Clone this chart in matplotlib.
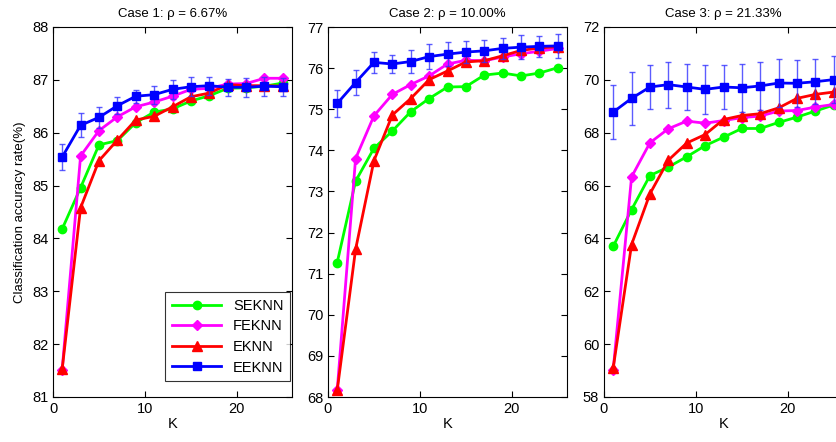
import matplotlib.pyplot as plt
import numpy as np

plt.rcParams['font.family'] = ['Liberation Sans', 'DejaVu Sans']

K = [1, 3, 5, 7, 9, 11, 13, 15, 17, 19, 21, 23, 25]
metodos = ['SEKNN', 'FEKNN', 'EKNN', 'EEKNN']
titulos = ['Case 1: ρ = 6.67%', 'Case 2: ρ = 10.00%', 'Case 3: ρ = 21.33%']

# caso 1
sek1 = [84.18, 84.96, 85.77, 85.85, 86.19, 86.39, 86.45, 86.60, 86.70, 86.84, 86.85, 86.88, 86.94]
fek1 = [81.52, 85.56, 86.04, 86.30, 86.49, 86.58, 86.69, 86.82, 86.84, 86.92, 86.93, 87.03, 87.03]
ekn1 = [81.53, 84.58, 85.47, 85.86, 86.24, 86.31, 86.49, 86.68, 86.75, 86.91, 86.89, 86.89, 86.88]
eek1 = [85.54, 86.14, 86.29, 86.51, 86.69, 86.72, 86.82, 86.87, 86.89, 86.86, 86.86, 86.88, 86.87]
err1 = [0.24, 0.23, 0.20, 0.16, 0.12, 0.17, 0.18, 0.18, 0.17, 0.16, 0.18, 0.18, 0.17]

# caso 2
sek2 = [71.27, 73.25, 74.05, 74.47, 74.94, 75.26, 75.54, 75.55, 75.83, 75.88, 75.81, 75.88, 76.01]
fek2 = [68.16, 73.80, 74.84, 75.36, 75.60, 75.81, 76.10, 76.19, 76.18, 76.27, 76.35, 76.41, 76.48]
ekn2 = [68.16, 71.59, 73.75, 74.86, 75.26, 75.72, 75.93, 76.15, 76.18, 76.30, 76.43, 76.49, 76.52]
eek2 = [75.14, 75.65, 76.14, 76.10, 76.16, 76.28, 76.34, 76.39, 76.42, 76.48, 76.51, 76.53, 76.54]
err2 = [0.33, 0.31, 0.25, 0.21, 0.29, 0.31, 0.30, 0.27, 0.27, 0.26, 0.29, 0.25, 0.29]

# caso 3
sek3 = [63.70, 65.09, 66.38, 66.70, 67.09, 67.51, 67.83, 68.16, 68.16, 68.39, 68.59, 68.82, 69.05]
fek3 = [59.03, 66.33, 67.62, 68.15, 68.44, 68.36, 68.46, 68.57, 68.63, 68.82, 68.84, 68.97, 69.07]
ekn3 = [59.10, 63.77, 65.69, 66.96, 67.61, 67.93, 68.50, 68.65, 68.72, 68.94, 69.30, 69.45, 69.54]
eek3 = [68.78, 69.30, 69.73, 69.82, 69.73, 69.64, 69.73, 69.70, 69.77, 69.88, 69.87, 69.93, 70.01]
err3 = [1.03, 0.99, 0.85, 0.87, 0.88, 0.94, 0.85, 0.90, 0.90, 0.90, 0.90, 0.86, 0.88]

casos = [(sek1, fek1, ekn1, eek1, err1),
         (sek2, fek2, ekn2, eek2, err2),
         (sek3, fek3, ekn3, eek3, err3)]
ylims = [(81, 88), (68, 77), (58, 72)]
yticks = [np.arange(81, 89, 1), np.arange(68, 78, 1), np.arange(58, 73, 2)]
lefts = [53, 328, 604]

fig = plt.figure(figsize=(8.36, 4.42), dpi=100)
W, H = 836, 442

for i, (sek, fek, ekn, eek, err) in enumerate(casos):
    ax = fig.add_axes([lefts[i] / W, 45 / H, 239 / W, 370 / H])
    ax.plot(K, sek, '-o', color='#00ff00', lw=2, ms=6, label='SEKNN')
    ax.plot(K, fek, '-D', color='#ff00ff', lw=2, ms=5, label='FEKNN')
    ax.plot(K, ekn, '-^', color='#ff0000', lw=2, ms=7, label='EKNN')
    ax.errorbar(K, eek, yerr=err, fmt='none', ecolor='#3333ff', elinewidth=1,
                capsize=2, alpha=0.8)
    ax.plot(K, eek, '-s', color='#0000ff', lw=2, ms=6, label='EEKNN')
    ax.set_xlim(0, 26)
    ax.set_ylim(*ylims[i])
    ax.set_xticks([0, 10, 20])
    ax.set_yticks(yticks[i])
    ax.tick_params(direction='in', top=True, right=True, labelsize=10.5, length=4)
    ax.set_xlabel('K', fontsize=10.5, labelpad=1)
    ax.set_title(titulos[i], fontsize=9.5, pad=7)
    if i == 0:
        ax.set_ylabel('Classification accuracy rate(%)', fontsize=9.5, labelpad=4)
        leg = ax.legend(loc='lower right', bbox_to_anchor=(0.992, 0.043),
                        fontsize=10.5, fancybox=False,
                        edgecolor='black', handlelength=3.4, borderpad=0.45,
                        labelspacing=0.45, borderaxespad=0)
        leg.get_frame().set_linewidth(0.8)

fig.savefig('out.png', dpi=100)
